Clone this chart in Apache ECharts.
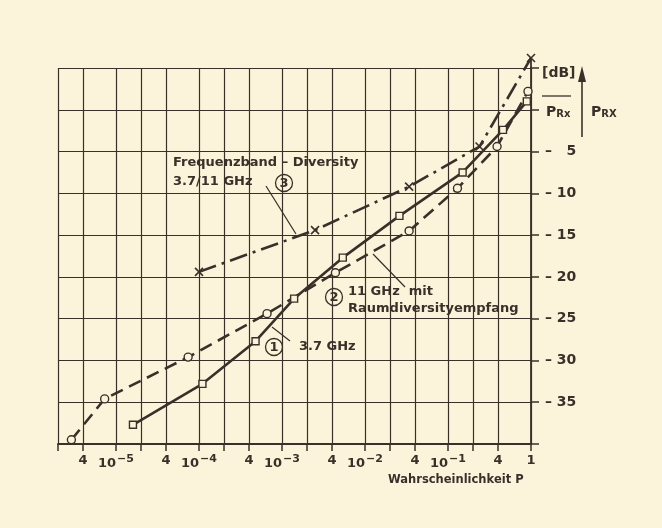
<!DOCTYPE html>
<html><head><meta charset="utf-8">
<style>html,body{margin:0;padding:0;background:#fcf4da;}#c{width:662px;height:528px;}</style>
<script src="https://cdn.jsdelivr.net/npm/echarts@6/dist/echarts.min.js"></script>
</head><body><div id="c"></div>
<script>
// ---- data (probability P, level in dB) ----
const probS1 = [1.6e-5, 1.1e-4, 4.8e-4, 1.4e-3, 5.4e-3, 0.026, 0.15, 0.46, 0.89];
const dbS1   = [-37.7, -32.8, -27.7, -22.6, -17.7, -12.7, -7.5, -2.4, 1.0];
const probS2 = [2.9e-6, 7.3e-6, 7.4e-5, 6.6e-4, 4.4e-3, 0.034, 0.13, 0.39, 0.92];
const dbS2   = [-39.5, -34.6, -29.6, -24.4, -19.5, -14.5, -9.4, -4.4, 2.2];
const probS3 = [1e-4, 2.5e-3, 0.034, 0.24, 1];
const dbS3   = [-19.4, -14.4, -9.2, -4.4, 6.2];
const xGridProbs  = [2e-6,4e-6,1e-5,2e-5,4e-5,1e-4,2e-4,4e-4,1e-3,2e-3,4e-3,1e-2,2e-2,4e-2,1e-1,2e-1,4e-1,1];
const xLabelProbs = [4e-6,1e-5,4e-5,1e-4,4e-4,1e-3,4e-3,1e-2,4e-2,1e-1,4e-1,1];
const yMin = -40, yMax = 5, yStep = 5;

const INK = '#3a302a';
const BG = '#fcf4da';
const FONT = '"DejaVu Sans", sans-serif';
const lg = p => Math.log10(p);
const pts = (ps, ds) => ps.map((p, i) => [lg(p), ds[i]]);

const chart = echarts.init(document.getElementById('c'), null, {renderer: 'canvas'});
const crossPath = 'path://M0,0L10,10M10,0L0,10';

const txt = (x, y, s, size, extra) => Object.assign({
  type: 'text', x: x, y: y, z: 50,
  style: {text: s, fill: INK, font: 'bold ' + (size || 13) + 'px ' + FONT, verticalAlign: 'middle', align: 'left'}
}, extra || {});
const circ = (cx, cy, s) => ({
  type: 'group', z: 50, children: [
    {type: 'circle', shape: {cx: cx, cy: cy, r: 8.5}, style: {fill: 'transparent', stroke: INK, lineWidth: 1.3}},
    {type: 'text', x: cx, y: cy + 0.5, style: {text: s, fill: INK, font: 'bold 13px ' + FONT, align: 'center', verticalAlign: 'middle'}}
  ]
});
const seg = (x1, y1, x2, y2, w) => ({type: 'line', z: 50, shape: {x1, y1, x2, y2}, style: {stroke: INK, lineWidth: w || 1.2}});

chart.setOption({
  backgroundColor: BG,
  animation: false,
  grid: {left: 58, right: 131, top: 68, bottom: 84},
  xAxis: {
    type: 'value', min: lg(2e-6), max: 0,
    axisLine: {show: true, onZero: false, lineStyle: {color: INK, width: 1.8}},
    axisTick: {show: true, length: 7, customValues: xGridProbs.map(lg), lineStyle: {color: INK, width: 1.5}},
    splitLine: {show: true, lineStyle: {color: INK, width: 1.2}},
    axisLabel: {
      customValues: xLabelProbs.map(lg), margin: 10, color: INK,
      fontFamily: FONT, fontWeight: 'bold', fontSize: 13,
      formatter: v => {
        const e = Math.round(v);
        if (Math.abs(v - e) < 1e-6) return e === 0 ? '1' : '10{sup|\u2212' + (-e) + '}';
        return '4';
      },
      rich: {sup: {fontFamily: FONT, fontWeight: 'bold', fontSize: 11, color: INK, verticalAlign: 'bottom', padding: [0, 0, 9, 1]}}
    }
  },
  yAxis: {
    type: 'value', position: 'right', min: yMin, max: yMax, interval: yStep,
    axisLine: {show: true, lineStyle: {color: INK, width: 1.8}},
    axisTick: {show: true, length: 8, lineStyle: {color: INK, width: 1.5}},
    splitLine: {show: true, lineStyle: {color: INK, width: 1.2}},
    axisLabel: {
      margin: 14, align: 'left', color: INK, fontFamily: FONT, fontWeight: 'bold', fontSize: 14,
      formatter: v => (v >= 0 || v <= yMin) ? '' : ('\u2013 ' + (Math.abs(v) < 10 ? '\u2007' : '') + Math.abs(v))
    }
  },
  series: [
    {
      name: '3.7 GHz', type: 'line', data: pts(probS1, dbS1), clip: false, z: 5,
      symbol: 'rect', symbolSize: 7,
      lineStyle: {color: INK, width: 2.6},
      itemStyle: {color: BG, borderColor: INK, borderWidth: 1.4}
    },
    {
      name: '11 GHz mit Raumdiversityempfang', type: 'line', data: pts(probS2, dbS2), clip: false, z: 5,
      symbol: 'circle', symbolSize: 8,
      lineStyle: {color: INK, width: 2.6, type: [13, 7]},
      itemStyle: {color: BG, borderColor: INK, borderWidth: 1.4}
    },
    {
      name: 'Frequenzband-Diversity 3.7/11 GHz', type: 'line', data: pts(probS3, dbS3), clip: false, z: 5,
      symbol: crossPath, symbolSize: 8,
      lineStyle: {color: INK, width: 2.6, type: [18, 6, 3, 6]},
      itemStyle: {color: 'transparent', borderColor: INK, borderWidth: 1.6}
    }
  ],
  graphic: [
    seg(531, 68, 531, 57, 1.8),
    txt(173, 163, 'Frequenzband \u2013 Diversity'),
    txt(173, 182, '3.7/11 GHz'),
    circ(284, 183, '3'),
    seg(266, 186, 296, 234),
    circ(334, 297, '2'),
    txt(348, 292, '11 GHz  mit'),
    txt(348, 309, 'Raumdiversityempfang'),
    seg(405, 287, 373, 254),
    circ(274, 347, '1'),
    txt(299, 347, '3.7 GHz'),
    seg(290, 341, 272, 327),
    txt(542, 73, '[dB]', 14),
    seg(542, 96, 571, 96, 1.3),
    {type: 'text', x: 546, y: 112, z: 50, style: {text: '{b|P}{s|Rx}', fill: INK, verticalAlign: 'middle',
      rich: {b: {font: 'bold 14px ' + FONT, fill: INK}, s: {font: 'bold 10px ' + FONT, fill: INK, verticalAlign: 'bottom', padding: [5, 0, 0, 0]}}}},
    seg(582, 137, 582, 78, 1.6),
    {type: 'polygon', z: 50, shape: {points: [[582, 66], [578, 82], [586, 82]]}, style: {fill: INK}},
    {type: 'text', x: 591, y: 112, z: 50, style: {text: '{b|P}{s|RX}', fill: INK, verticalAlign: 'middle',
      rich: {b: {font: 'bold 14px ' + FONT, fill: INK}, s: {font: 'bold 10px ' + FONT, fill: INK, verticalAlign: 'bottom', padding: [5, 0, 0, 0]}}}},
    txt(388, 480, 'Wahrscheinlichkeit P', 11.5)
  ]
});
</script></body></html>
